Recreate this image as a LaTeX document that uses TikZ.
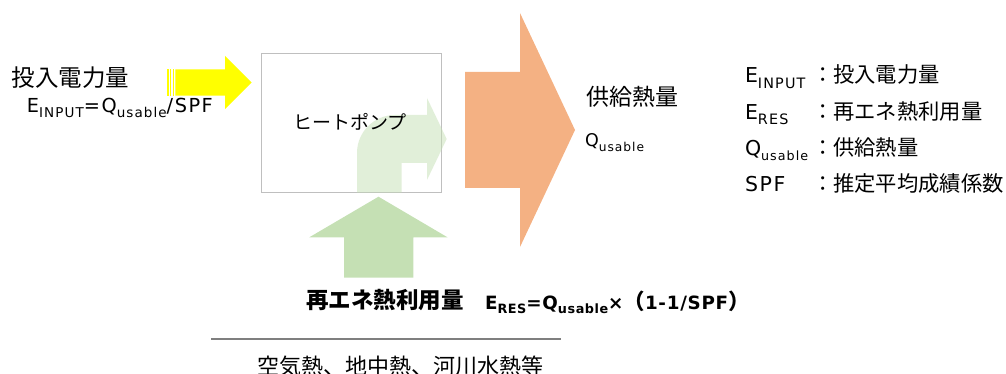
\documentclass[tikz,border=0pt]{standalone}
\usepackage{fontspec}
\setmainfont{Noto Sans CJK JP}
\newfontfamily\lat[LetterSpace=8]{DejaVu Sans}
\newfontfamily\latb[LetterSpace=4]{DejaVu Sans}
\usepackage{graphicx}
\newcommand\lsub[2][0.7]{\raisebox{-0.25em}{\scalebox{#1}{#2}}}
\newcommand\fs[1]{\fontsize{#1}{#1}\selectfont}
\definecolor{yel}{HTML}{FFFF00}
\definecolor{org}{HTML}{F4B183}
\definecolor{grn}{HTML}{C5E0B4}
\definecolor{boxgray}{HTML}{BFBFBF}
\definecolor{linegray}{HTML}{7F7F7F}
\tikzset{
  lbl/.style={inner sep=0pt, outer sep=0pt, text=black},
}
\begin{document}
\begin{tikzpicture}[x=1pt,y=-1pt]
\useasboundingbox (0,0) rectangle (1006,374);
% yellow arrow
\fill[yel] (167.3,69.3) rectangle (168.7,95.7);
\fill[yel] (170.0,69.3) rectangle (171.4,95.7);
\fill[yel] (172.7,69.3) rectangle (174.2,95.7);
\fill[yel] (175.3,69.3) -- (225,69.3) -- (225,56) -- (251.7,82.5) -- (225,109) -- (225,95.7) -- (175.3,95.7) -- cycle;
% heat pump box
\node[draw=boxgray, line width=1.3pt, fill=white, minimum width=180pt, minimum height=139pt, inner sep=0pt] (hp) at (351.5,123) {};
% bent arrow (transparent)
\fill[grn, fill opacity=0.5] (357,192.7) -- (357,153) .. controls (357,132) and (374,115) .. (395,115) -- (427,115) -- (427,98) -- (446.7,139) -- (427,180) -- (427,163) -- (401.7,163) -- (401.7,192.7) -- cycle;
\node[lbl] (hptext) at (350,122) {\fs{19}ヒートポンプ};
% green up arrow
\fill[grn] (344,277.7) -- (344,237.3) -- (309.3,237.3) -- (378.5,196.7) -- (447.5,237.3) -- (413.3,237.3) -- (413.3,277.7) -- cycle;
% orange arrow
\fill[org] (465,72) -- (520,72) -- (520,13) -- (575,130) -- (520,247) -- (520,188) -- (465,188) -- cycle;
% left texts
\node[lbl, anchor=west] (inlbl) at (12,77.5) {\fs{23.5}投入電力量};
\node[lbl, anchor=base west] (infml) at (27,113) {\fs{19.3}\lat E\lsub{INPUT}=Q\lsub{usable}/SPF};
% output texts
\node[lbl, anchor=west] (outlbl) at (586,97) {\fs{23}供給熱量};
\node[lbl, anchor=base west] (outq) at (585,147) {\fs{17.5}\lat Q\lsub{usable}};
% legend
\node[lbl, anchor=base west] (l1a) at (745,83) {\fs{20.5}\lat E\lsub{INPUT}};
\node[lbl, anchor=base west] (l1b) at (812,83) {\fs{21.3}：投入電力量};
\node[lbl, anchor=base west] (l2a) at (745,119.5) {\fs{20.5}\lat E\lsub{RES}};
\node[lbl, anchor=base west] (l2b) at (812,119.5) {\fs{21.3}：再エネ熱利用量};
\node[lbl, anchor=base west] (l3a) at (745,155.5) {\fs{20.5}\lat Q\lsub[0.62]{usable}};
\node[lbl, anchor=base west] (l3b) at (812,155.5) {\fs{21.3}：供給熱量};
\node[lbl, anchor=base west] (l4a) at (745,191.5) {\fs{20.5}\lat SPF};
\node[lbl, anchor=base west] (l4b) at (812,191.5) {\fs{21.3}：推定平均成績係数};
% bottom
\node[lbl, anchor=west] (reslbl) at (306,300.5) {\fs{22.5}\bfseries 再エネ熱利用量};
\node[lbl, anchor=base west] (resfml) at (485,309) {\fs{18.3}\bfseries{\latb E\lsub{RES}=Q\lsub{usable}×}{\fs{21.5}（}{\latb 1-1/SPF}{\fs{21.5}）}};
\coordinate (la) at (211,339);
\coordinate (lb) at (560.7,339);
\draw[linegray, line width=1.3pt] (la) -- (lb);
\node[lbl, anchor=base west] (src) at (257,374.5) {\fs{22}空気熱、地中熱、河川水熱等};
\end{tikzpicture}
\end{document}
